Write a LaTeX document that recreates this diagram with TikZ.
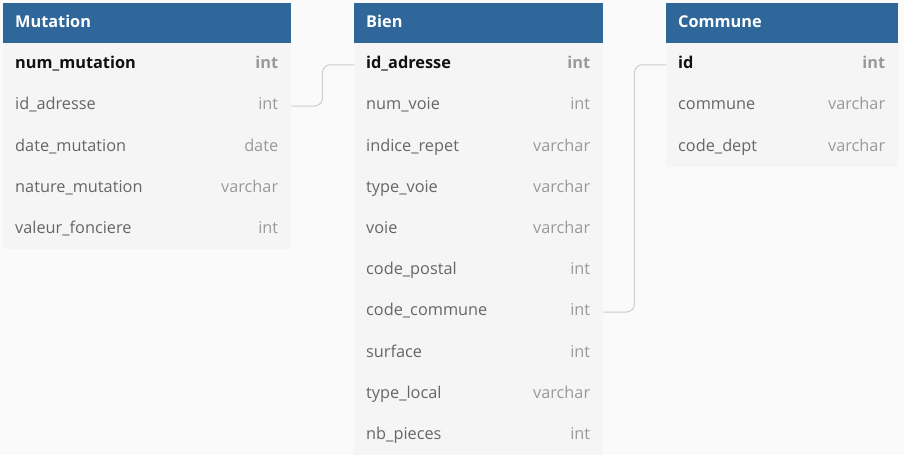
\documentclass[tikz,border=0pt]{standalone}
\usepackage{fontspec}
\setmainfont{Open Sans}
\definecolor{bgc}{HTML}{FAFAFA}
\definecolor{hdr}{HTML}{30679A}
\definecolor{hdrline}{HTML}{9DBBD8}
\definecolor{body}{HTML}{F5F5F5}
\definecolor{namec}{HTML}{666666}
\definecolor{typec}{HTML}{9A9A9A}
\definecolor{pkc}{HTML}{111111}
\definecolor{connc}{HTML}{CCCCCC}
\begin{document}
\begin{tikzpicture}[x=1pt,y=-1pt,
  hdrbox/.style={rectangle, fill=hdr, minimum height=40, anchor=north west, inner sep=0},
  rowbox/.style={rectangle, fill=body, minimum height=41.2, anchor=north west, inner sep=0},
  txt/.style={font=\fontsize{16.3}{18}\selectfont, inner sep=0},
  title/.style={txt, font=\fontsize{16.3}{18}\selectfont\bfseries, text=white, anchor=mid west},
  fname/.style={txt, text=namec, anchor=mid west},
  ftype/.style={txt, text=typec, anchor=mid east},
  pkname/.style={txt, font=\fontsize{16.3}{18}\selectfont\bfseries, text=pkc, anchor=mid west},
  pktype/.style={txt, font=\fontsize{16.3}{18}\selectfont\bfseries, text=typec, anchor=mid east},
  conn/.style={draw=connc, line width=1pt, rounded corners=8}]
\fill[bgc] (0,0) rectangle (904,455);
\useasboundingbox (0,0) rectangle (904,455);

% ---------- Mutation ----------
\node[hdrbox, minimum width=288] (muth) at (3,3) {};
\draw[hdrline, line width=0.8pt] (muth.south west) -- (muth.south east);
\node[title] (mutt) at ([xshift=12,yshift=-1.5]muth.west) {Mutation};
\node[rowbox, minimum width=288] (mut-1) at (3,43) {};
\node[pkname] (mutn-1) at ([xshift=12,yshift=-2.3]mut-1.west) {num\_mutation};
\node[pktype] (mutt-1) at ([xshift=-13,yshift=-2.3]mut-1.east) {int};
\foreach \n/\t [count=\i from 2] in {id\_adresse/int, date\_mutation/date, nature\_mutation/varchar, valeur\_fonciere/int}{
  \node[rowbox, minimum width=288] (mut-\i) at (3,{43+(\i-1)*41.2}) {};
  \node[fname] (mutn-\i) at ([xshift=12,yshift=-2.3]mut-\i.west) {\n};
  \node[ftype] (mutt-\i) at ([xshift=-13,yshift=-2.3]mut-\i.east) {\t};
}

% ---------- Bien ----------
\node[hdrbox, minimum width=249] (bienh) at (354,3) {};
\draw[hdrline, line width=0.8pt] (bienh.south west) -- (bienh.south east);
\node[title] (bient) at ([xshift=12,yshift=-1.5]bienh.west) {Bien};
\node[rowbox, minimum width=249] (bien-1) at (354,43) {};
\node[pkname] (bienn-1) at ([xshift=12,yshift=-2.3]bien-1.west) {id\_adresse};
\node[pktype] (bient-1) at ([xshift=-13,yshift=-2.3]bien-1.east) {int};
\foreach \n/\t [count=\i from 2] in {num\_voie/int, indice\_repet/varchar, type\_voie/varchar, voie/varchar, code\_postal/int, code\_commune/int, surface/int, type\_local/varchar, nb\_pieces/int}{
  \node[rowbox, minimum width=249] (bien-\i) at (354,{43+(\i-1)*41.2}) {};
  \node[fname] (bienn-\i) at ([xshift=12,yshift=-2.3]bien-\i.west) {\n};
  \node[ftype] (bient-\i) at ([xshift=-13,yshift=-2.3]bien-\i.east) {\t};
}

% ---------- Commune ----------
\node[hdrbox, minimum width=232] (comh) at (666,3) {};
\draw[hdrline, line width=0.8pt] (comh.south west) -- (comh.south east);
\node[title] (comt) at ([xshift=12,yshift=-1.5]comh.west) {Commune};
\node[rowbox, minimum width=232] (com-1) at (666,43) {};
\node[pkname] (comn-1) at ([xshift=12,yshift=-2.3]com-1.west) {id};
\node[pktype] (comty-1) at ([xshift=-13,yshift=-2.3]com-1.east) {int};
\foreach \n/\t [count=\i from 2] in {commune/varchar, code\_dept/varchar}{
  \node[rowbox, minimum width=232] (com-\i) at (666,{43+(\i-1)*41.2}) {};
  \node[fname] (comn-\i) at ([xshift=12,yshift=-2.3]com-\i.west) {\n};
  \node[ftype] (comty-\i) at ([xshift=-13,yshift=-2.3]com-\i.east) {\t};
}

% ---------- connectors ----------
\draw[conn] ([yshift=-1]mut-2.east) -- ++(31,0) |- ([yshift=-1]bien-1.west);
\draw[conn] ([yshift=-1]bien-7.east) -- ++(31,0) |- ([yshift=-1]com-1.west);
\end{tikzpicture}
\end{document}
